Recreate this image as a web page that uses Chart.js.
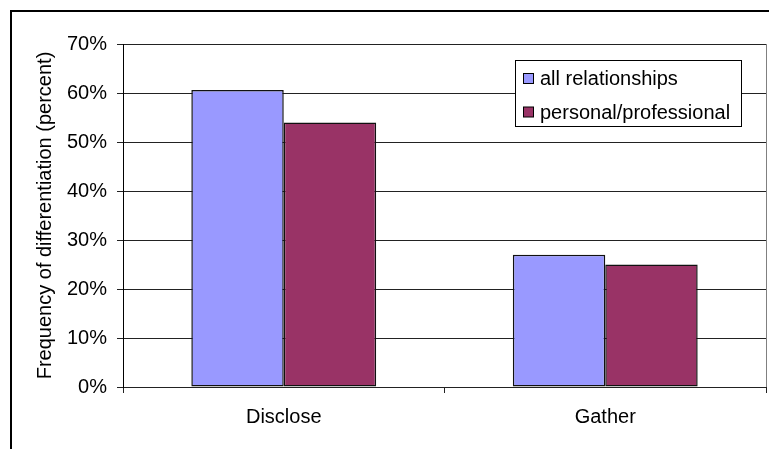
<!DOCTYPE html>
<html>
<head>
<meta charset="utf-8">
<script src="https://cdn.jsdelivr.net/npm/chart.js@4/dist/chart.umd.min.js"></script>
<style>
  html, body { margin: 0; padding: 0; background: #fff; }
  #wrap { width: 769px; height: 449px; position: relative; }
</style>
</head>
<body>
<div id="wrap"><canvas id="chart"></canvas></div>
<script>
// data
const categories = ['Disclose', 'Gather'];
const seriesNames = ['all relationships', 'personal/professional'];
const allRelationships = [60.6, 27];
const personalProfessional = [54, 25];
const yTicks = [0, 10, 20, 30, 40, 50, 60, 70];

const FONT = 'Liberation Sans, Arial, sans-serif';
const FSIZE = 20;

// outer frame, plot area right edge and the boxed legend
const decorations = {
  id: 'decorations',
  afterDraw(chart) {
    const c = chart.ctx;
    const a = chart.chartArea;
    c.save();
    // outer chart border (only left and top visible)
    c.strokeStyle = '#000';
    c.lineWidth = 2;
    c.beginPath();
    c.moveTo(11, 449);
    c.lineTo(11, 11);
    c.lineTo(769, 11);
    c.stroke();

    // plot area right border
    c.strokeStyle = '#808080';
    c.lineWidth = 1;
    c.beginPath();
    c.moveTo(Math.round(a.right) + 0.5, a.top);
    c.lineTo(Math.round(a.right) + 0.5, a.bottom);
    c.stroke();

    // legend
    const lx = 515.5, ly = 60.5, lw = 226, lh = 66;
    c.fillStyle = '#fff';
    c.fillRect(lx, ly, lw, lh);
    c.strokeStyle = '#000';
    c.strokeRect(lx, ly, lw, lh);
    c.font = FSIZE + 'px ' + FONT;
    c.textBaseline = 'middle';
    chart.data.datasets.forEach((ds, i) => {
      const cy = 78.5 + i * 33.5;
      c.fillStyle = ds.backgroundColor;
      c.fillRect(523.5, cy - 5, 10, 10);
      c.strokeStyle = '#000';
      c.strokeRect(523.5, cy - 5, 10, 10);
      c.fillStyle = '#000';
      c.fillText(ds.label, 540, cy + 1);
    });
    c.restore();
  }
};

new Chart(document.getElementById('chart'), {
  type: 'bar',
  data: {
    labels: categories,
    datasets: [{
      label: seriesNames[0],
      data: allRelationships,
      backgroundColor: '#9999FF',
      borderColor: '#111',
      borderWidth: 1.5,
      borderSkipped: false,
      categoryPercentage: 0.575,
      barPercentage: 1
    }, {
      label: seriesNames[1],
      data: personalProfessional,
      backgroundColor: '#993366',
      borderColor: '#111',
      borderWidth: 1.5,
      borderSkipped: false,
      categoryPercentage: 0.575,
      barPercentage: 1
    }]
  },
  options: {
    responsive: true,
    maintainAspectRatio: false,
    animation: false,
    layout: {
      padding: { left: 0, top: 44, right: 3, bottom: 0 }
    },
    plugins: {
      legend: { display: false },
      tooltip: { enabled: false }
    },
    scales: {
      x: {
        afterFit(scale) { scale.height = 62; },
        grid: {
          offset: true,
          drawOnChartArea: false,
          drawTicks: true,
          tickLength: 6,
          color: '#222'
        },
        border: { color: '#222', width: 1 },
        ticks: {
          padding: 12,
          color: '#000',
          font: { size: FSIZE, family: FONT }
        }
      },
      y: {
        min: 0,
        max: 70,
        afterFit(scale) { scale.width = 123; },
        afterBuildTicks(scale) {
          scale.ticks = yTicks.map(v => ({ value: v }));
        },
        grid: {
          color: '#222',
          tickLength: 6
        },
        border: { color: '#000', width: 1 },
        ticks: {
          padding: 10,
          color: '#000',
          font: { size: FSIZE, family: FONT },
          callback: v => v + '%'
        },
        title: {
          display: true,
          text: 'Frequency of differentiation (percent)',
          color: '#000',
          font: { size: FSIZE, family: FONT },
          padding: { top: 33, bottom: 0 }
        }
      }
    }
  },
  plugins: [decorations]
});
</script>
</body>
</html>
